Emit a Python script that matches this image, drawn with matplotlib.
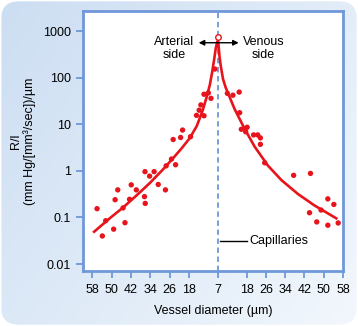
import matplotlib.pyplot as plt
import matplotlib
import numpy as np
from matplotlib.patches import FancyBboxPatch

matplotlib.rcParams['font.family'] = ['Liberation Sans', 'DejaVu Sans']

# x axis: signed position, arterial side negative, venous side positive
tick_pos = [-52, -44, -36, -28, -20, -12, 0, 12, 20, 28, 36, 44, 52]
tick_labels = ['58', '50', '42', '34', '26', '18', '7', '18', '26', '34', '42', '50', '58']
y_ticks = [0.01, 0.1, 1, 10, 100, 1000]
y_tick_labels = ['0.01', '0.1', '1', '10', '100', '1000']

# measured points
pts_x = [-50.1, -47.9, -46.5, -43.2, -42.6, -41.5, -39.3, -38.5, -36.6, -35.9,
         -33.8, -30.4, -30.1, -30.2, -28.3, -26.4, -24.7, -21.7, -21.4, -19.2,
         -17.5, -18.5, -15.4, -14.6, -11.3, -8.8, -7.7, -5.7, -7.0, -5.7,
         -3.9, -2.8, -1.2,
         4.0, 6.3, 8.9, 9.1, 9.8, 12.2, 11.6, 14.9, 16.6, 17.7, 17.7, 19.5,
         31.5, 38.5, 45.7, 48.2, 42.9, 38.1, 41.1, 45.7, 50.0]
pts_y = [0.154, 0.040, 0.085, 0.056, 0.24, 0.39, 0.16, 0.077, 0.245, 0.50,
         0.39, 0.28, 0.20, 0.96, 0.77, 0.96, 0.51, 0.39, 1.28, 1.79,
         1.35, 4.7, 5.2, 7.5, 5.4, 15.5, 20, 15.2, 26, 44,
         47, 36, 153,
         46, 42, 49, 17.7, 7.8, 8.6, 6.9, 5.9, 5.9, 5.1, 3.7, 1.49,
         0.80, 0.88, 0.25, 0.19, 0.144, 0.126, 0.080, 0.068, 0.076]

# fitted curve
curve_x = [-51.3, -44.7, -39.3, -33.5, -28.2, -23.2, -19.0, -14.9, -11.6, -8.7,
           -6.2, -4.6, -3.3, -2.3, -1.4, -0.8, -0.2, 0,
           0.2, 0.8, 1.4, 2.2, 3.3, 4.3, 7.0, 11.2, 15.3, 20.8, 26.4, 33.3, 40.2, 49.2]
curve_y = [0.0493, 0.097, 0.163, 0.303, 0.547, 1.01, 1.75, 3.08, 5.05, 9.15,
           20.2, 38.4, 69.3, 132, 264, 432, 581, 610,
           581, 264, 161, 93.3, 61.4, 46.0, 21.2, 7.89, 3.32, 1.30, 0.635, 0.318, 0.180, 0.0957]

peak_x = 0
peak_y = 730

red = '#e8141c'
blue = '#6f98d8'

fig = plt.figure(figsize=(3.58, 3.26), dpi=100)

# light blue rounded panel as background
bg = fig.add_axes([0, 0, 1, 1], zorder=-10)
bg.set_axis_off()
gx, gy = np.meshgrid(np.linspace(0, 1, 200), np.linspace(0, 1, 200))
grad = 0.6 * gx + 0.4 * gy
c1 = np.array([0.80, 0.87, 0.95])
c2 = np.array([0.95, 0.97, 0.99])
img = c1 + (c2 - c1) * grad[..., None]
im = bg.imshow(img, extent=[0, 1, 0, 1], origin='upper', aspect='auto')
panel = FancyBboxPatch((0.004, 0.004), 0.992, 0.992,
                       boxstyle='round,pad=0,rounding_size=0.05',
                       transform=bg.transAxes, facecolor='none', edgecolor='none')
bg.add_patch(panel)
im.set_clip_path(panel)
bg.set_xlim(0, 1)
bg.set_ylim(0, 1)

ax = fig.add_axes([0.2327, 0.1687, 0.7254, 0.7975])
ax.set_facecolor('white')

ax.set_yscale('log')
ax.set_xlim(-55.8, 51.8)
ax.set_ylim(10 ** -2.15, 10 ** 3.43)

ax.axvline(0, color=blue, linestyle=(0, (3, 2)), linewidth=1.3, zorder=1)

ax.plot(curve_x, curve_y, color=red, linewidth=1.9, zorder=3,
        solid_joinstyle='round')
ax.scatter(pts_x, pts_y, s=15, color=red, edgecolors='none', zorder=4)
ax.plot(peak_x, peak_y, marker='o', markersize=4, markerfacecolor='white',
        markeredgecolor=red, markeredgewidth=1.0, zorder=5)

# arrows and labels
ax.annotate('', xy=(-7.9, 561), xytext=(8.7, 561),
            arrowprops=dict(arrowstyle='<|-|>', color='black', lw=1.0,
                            mutation_scale=8, shrinkA=0, shrinkB=0), zorder=6)
ax.text(-18.2, 780, 'Arterial\nside', ha='center', va='top', fontsize=9,
        linespacing=1.05)
ax.text(19.0, 780, 'Venous\nside', ha='center', va='top', fontsize=9,
        linespacing=1.05)
ax.plot([0.8, 12.0], [0.0312, 0.0312], color='black', linewidth=1.0)
ax.text(13.3, 0.0312, 'Capillaries', ha='left', va='center', fontsize=9)

ax.set_xticks(tick_pos)
ax.set_xticklabels(tick_labels)
ax.set_yticks(y_ticks)
ax.set_yticklabels(y_tick_labels)
ax.minorticks_off()
ax.tick_params(axis='both', colors=blue, labelcolor='black', labelsize=9,
               length=5, width=1.3, direction='out', pad=4)

for s in ax.spines.values():
    s.set_color(blue)
    s.set_linewidth(2)

ax.set_xlabel('Vessel diameter (µm)', fontsize=9, labelpad=7)
ax.set_ylabel('R/l\n(mm Hg/[mm³/sec])/µm', fontsize=9, labelpad=5,
              linespacing=1.1)

plt.savefig('out.png', dpi=100)
